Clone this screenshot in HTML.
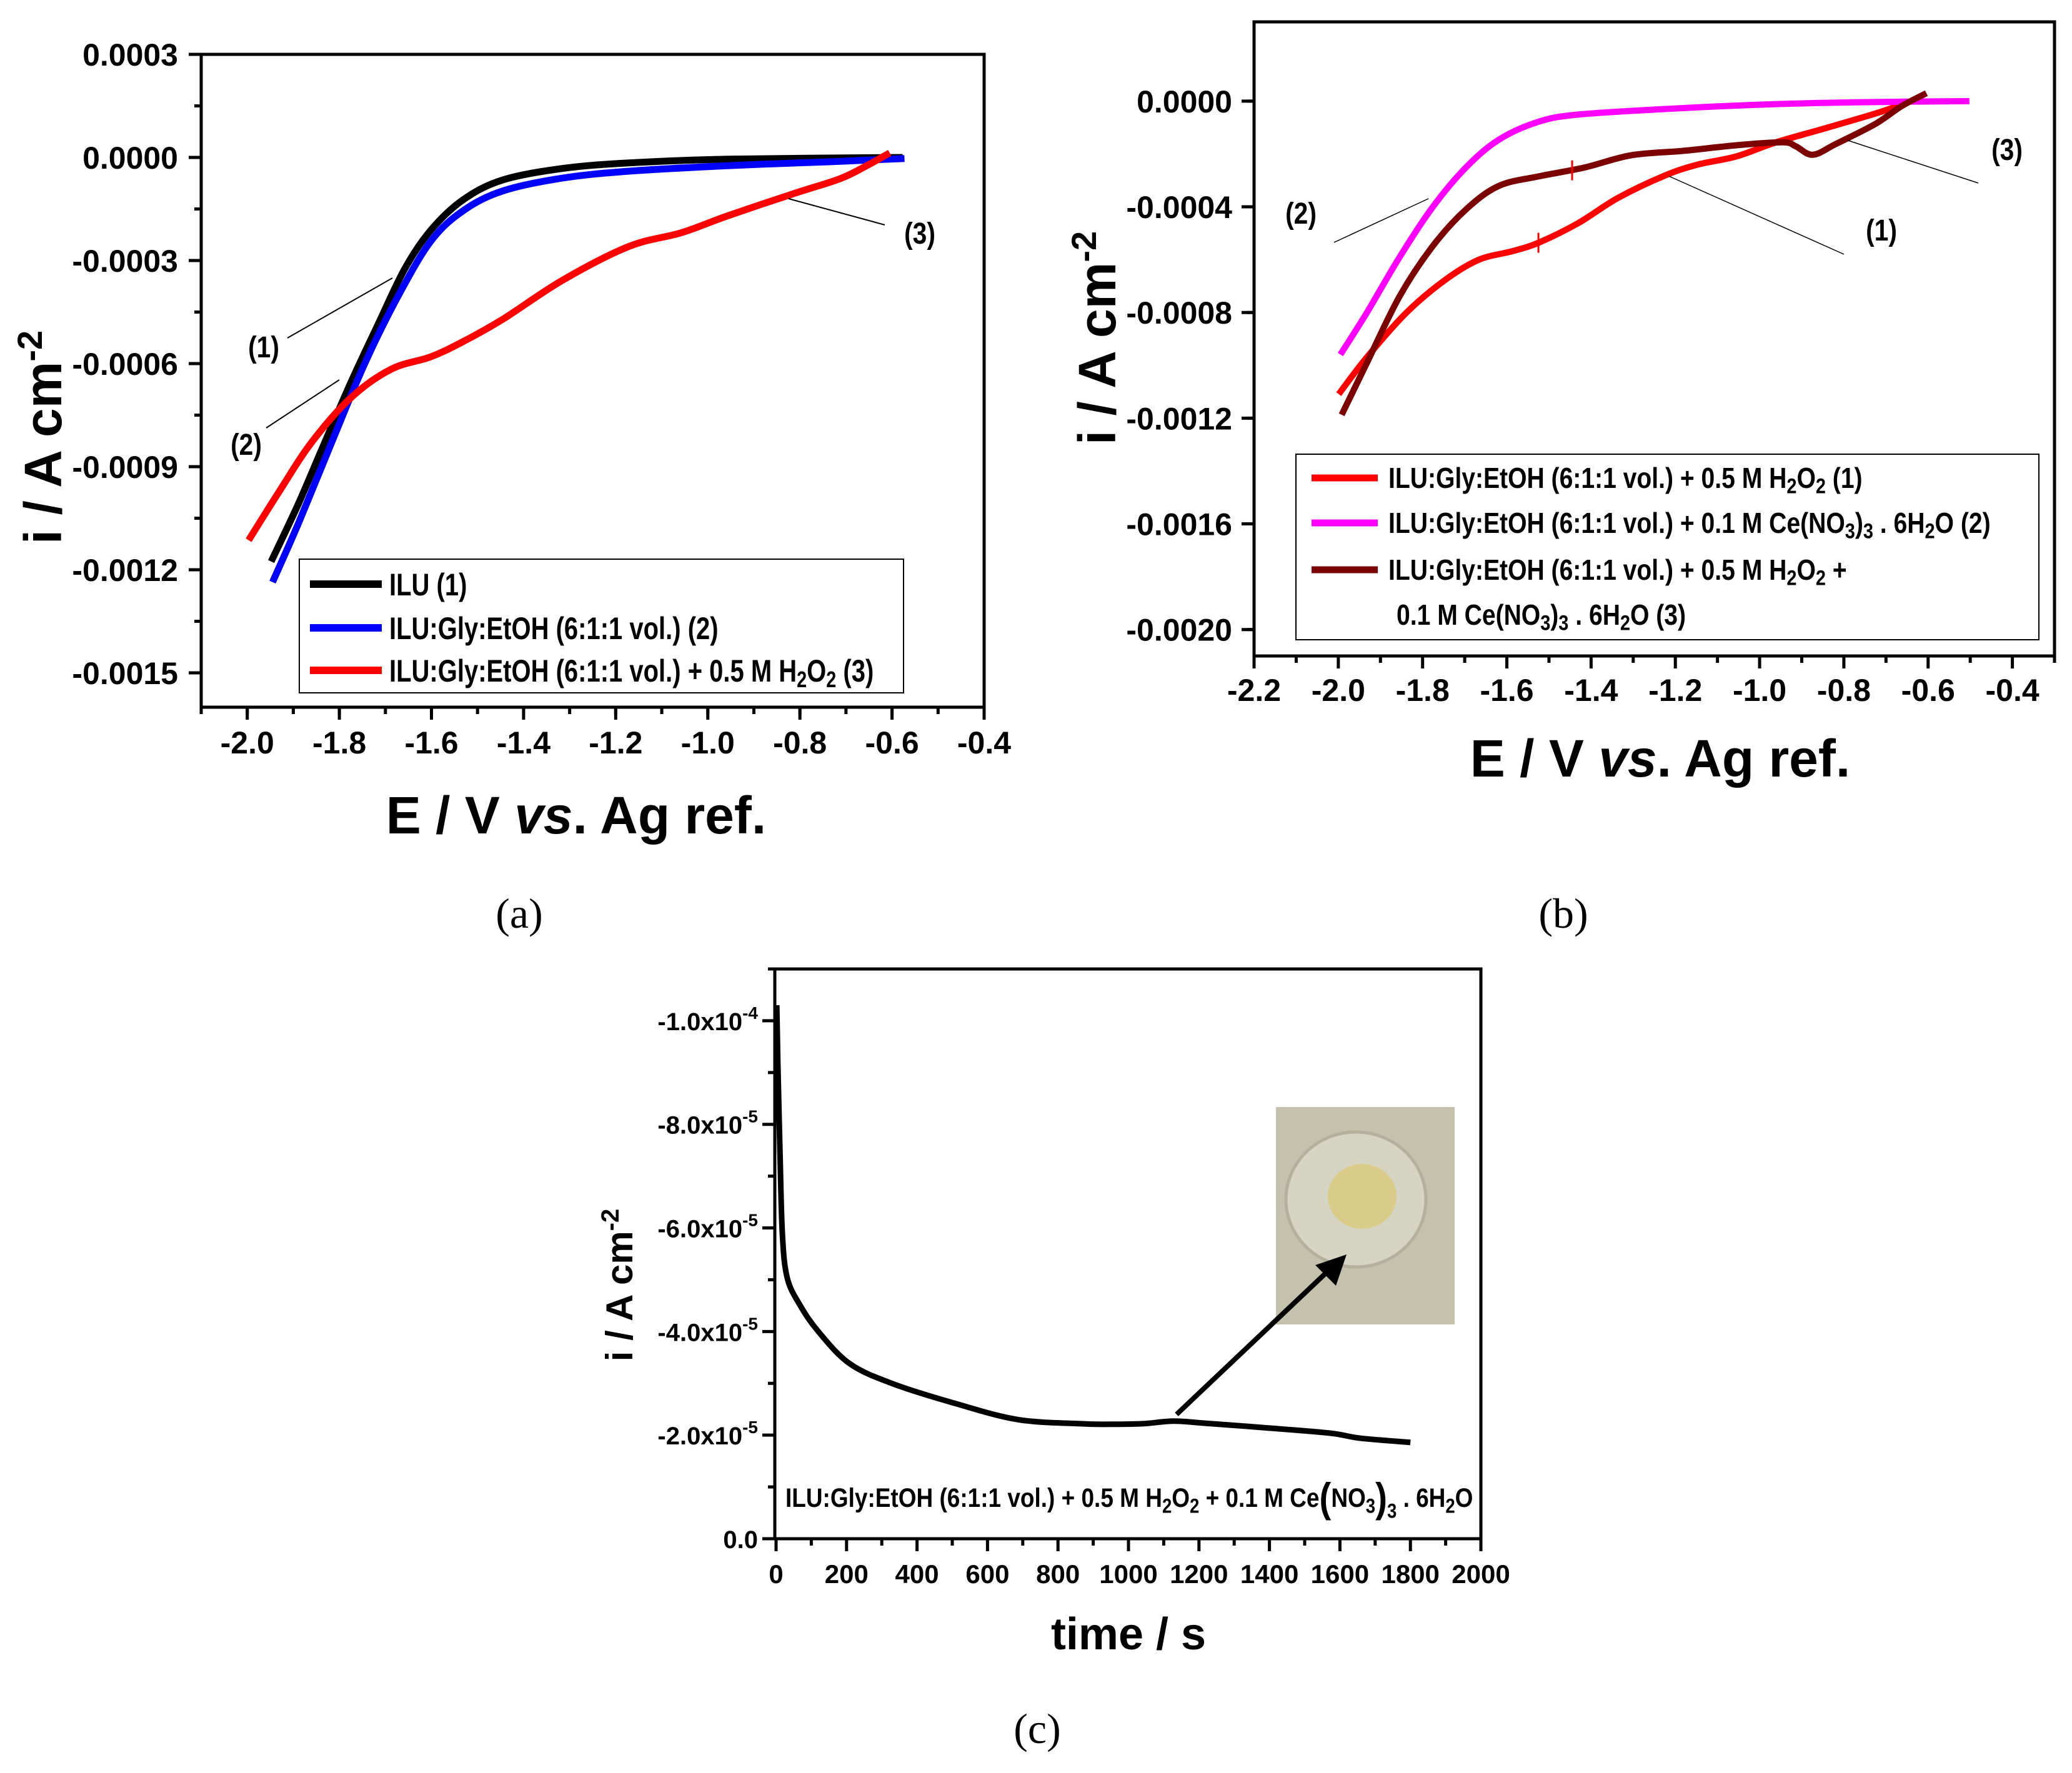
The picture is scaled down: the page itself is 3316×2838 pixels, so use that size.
<!DOCTYPE html>
<html><head><meta charset="utf-8"><title>Voltammetry and chronoamperometry</title>
<style>
html,body{margin:0;padding:0;background:#fff;}
svg{display:block;}
text{font-family:"Liberation Sans",Arial,sans-serif;}
.nar{font-family:"Liberation Sans",sans-serif;font-weight:bold;}
.cap{font-family:"Liberation Serif",serif;font-size:68px;}
</style></head>
<body>
<svg id="fig" width="3316" height="2838" viewBox="0 0 3316 2838" xmlns="http://www.w3.org/2000/svg">
<rect x="0" y="0" width="3316" height="2838" fill="#fff"/>
<g id="pa"></g>
<g id="pb"></g>
<g id="pc"></g>

<text class="cap" x="831" y="1485" text-anchor="middle">(a)</text>
<text class="cap" x="2502" y="1485" text-anchor="middle">(b)</text>
<text class="cap" x="1660" y="2790" text-anchor="middle">(c)</text>

<text x="922" y="1334" text-anchor="middle" font-weight="bold" font-size="84">E / V <tspan font-style="italic">vs</tspan>. Ag ref.</text>
<text transform="translate(98,700) rotate(-90)" text-anchor="middle" font-weight="bold" font-size="84">i / A cm<tspan baseline-shift="super" font-size="56">-2</tspan></text>
<text x="2657" y="1243" text-anchor="middle" font-weight="bold" font-size="84">E / V <tspan font-style="italic">vs</tspan>. Ag ref.</text>
<text transform="translate(1785,541) rotate(-90)" text-anchor="middle" font-weight="bold" font-size="84">i / A cm<tspan baseline-shift="super" font-size="56">-2</tspan></text>
<text x="1806" y="2640" text-anchor="middle" font-weight="bold" font-size="72">time / s</text>
<text transform="translate(1012,2057) rotate(-90)" text-anchor="middle" font-weight="bold" font-size="60">i / A cm<tspan baseline-shift="super" font-size="40">-2</tspan></text>
</svg>
<script>
// ---------- Panel (a) data ----------
const aBlackX=[-1.948,-1.888,-1.831,-1.773,-1.716,-1.658,-1.601,-1.530,-1.444,-1.315,-1.171,-0.957,-0.577];
const aBlackY=[-0.001176,-0.001005,-0.000827,-0.000649,-0.000486,-0.000324,-0.000211,-0.000122,-0.000065,-0.000032,-0.000016,-0.000005,0];
const aBlueX=[-1.945,-1.888,-1.816,-1.745,-1.673,-1.601,-1.530,-1.444,-1.315,-1.171,-0.957,-0.742,-0.573];
const aBlueY=[-0.001236,-0.001062,-0.000827,-0.0006,-0.000405,-0.000243,-0.000154,-0.000097,-0.00006,-0.00004,-0.000024,-0.000013,-0.000003];
const aRedX=[-1.997,-1.931,-1.859,-1.773,-1.687,-1.601,-1.530,-1.444,-1.315,-1.171,-1.057,-0.957,-0.813,-0.713,-0.655,-0.605];
const aRedY=[-0.001114,-0.000973,-0.000827,-0.000697,-0.000616,-0.00058,-0.000535,-0.00047,-0.000357,-0.000259,-0.000219,-0.00017,-0.000105,-0.000062,-0.000024,0.000013];
const aXTicks=[-2.0,-1.8,-1.6,-1.4,-1.2,-1.0,-0.8,-0.6,-0.4];
const aXTickLabels=["-2.0","-1.8","-1.6","-1.4","-1.2","-1.0","-0.8","-0.6","-0.4"];
const aYTicks=[0.0003,0,-0.0003,-0.0006,-0.0009,-0.0012,-0.0015];
const aYTickLabels=["0.0003","0.0000","-0.0003","-0.0006","-0.0009","-0.0012","-0.0015"];

// ---------- Panel (b) data ----------
const bRedX=[-1.999,-1.932,-1.838,-1.744,-1.666,-1.587,-1.525,-1.431,-1.337,-1.227,-1.149,-1.055,-0.961,-0.836,-0.711,-0.648];
const bRedY=[-0.001109,-0.000969,-0.0008,-0.000674,-0.0006,-0.000568,-0.000536,-0.000462,-0.000367,-0.000283,-0.000241,-0.000209,-0.000156,-0.000099,-0.00004,-0.000002];
const bMagX=[-1.995,-1.932,-1.854,-1.775,-1.697,-1.619,-1.525,-1.431,-1.227,-0.992,-0.757,-0.502];
const bMagY=[-0.000959,-0.0008,-0.000589,-0.000399,-0.000251,-0.000146,-0.000078,-0.000051,-0.00003,-0.000013,-0.000004,0];
const bDarkX=[-1.992,-1.932,-1.854,-1.775,-1.697,-1.619,-1.525,-1.415,-1.305,-1.180,-1.055,-0.945,-0.914,-0.874,-0.820,-0.726,-0.663,-0.604];
const bDarkY=[-0.001187,-0.00099,-0.000737,-0.000547,-0.00041,-0.000321,-0.000285,-0.000251,-0.000205,-0.000188,-0.000167,-0.000156,-0.000171,-0.000203,-0.000163,-0.000087,-0.000019,0.00003];
const bXTicks=[-2.2,-2.0,-1.8,-1.6,-1.4,-1.2,-1.0,-0.8,-0.6,-0.4];
const bXTickLabels=["-2.2","-2.0","-1.8","-1.6","-1.4","-1.2","-1.0","-0.8","-0.6","-0.4"];
const bYTicks=[0,-0.0004,-0.0008,-0.0012,-0.0016,-0.0020];
const bYTickLabels=["0.0000","-0.0004","-0.0008","-0.0012","-0.0016","-0.0020"];

// ---------- Panel (c) data (current magnitude, x1e-5 A cm-2, plotted on reversed axis) ----------
const cTime=[2,5,11,18,32,67,120,209,332,509,686,863,950,1040,1128,1217,1393,1570,1659,1800];
const cCurrent=[10.3,9.2,7.5,5.86,5.03,4.52,4.0,3.38,2.99,2.61,2.30,2.22,2.21,2.22,2.27,2.23,2.14,2.04,1.94,1.86];
const cXTicks=[0,200,400,600,800,1000,1200,1400,1600,1800,2000];
const cYTicks=[0,2,4,6,8,10];
const cYTickLabels=["0.0","-2.0x10","-4.0x10","-6.0x10","-8.0x10","-1.0x10"];
const cYTickExp=["","-5","-5","-5","-5","-4"];

const NS="http://www.w3.org/2000/svg";
function mk(parent,tag,attrs){const e=document.createElementNS(NS,tag);for(const k in attrs)e.setAttribute(k,attrs[k]);parent.appendChild(e);return e;}
function scale(d0,d1,r0,r1){return v=>r0+(v-d0)/(d1-d0)*(r1-r0);}
function narText(parent,x,y,fs,html,anchor,sx){
  const t=mk(parent,'text',{x:0,y:0,'font-size':fs,'class':'nar','text-anchor':anchor||'start',transform:'translate('+x+','+y+') scale('+(sx||0.82)+',1)'});
  t.innerHTML=html;
  return t;
}

function axes(g,L,R,T,B,sx,sy,xt,xl,yt,yl,xMinor,yMinor,labelRight,xLabelY,fs){
  const fr=mk(g,'rect',{x:L,y:T,width:R-L,height:B-T,fill:'none',stroke:'#000','stroke-width':5});
  
  
  xMinor.forEach(v=>{const x=sx(v);const t=mk(g,'line',{x1:x,x2:x,y1:B,y2:B+11,stroke:'#000','stroke-width':5});
    
    });
  yMinor.forEach(v=>{const y=sy(v);const t=mk(g,'line',{x1:L-11,x2:L,y1:y,y2:y,stroke:'#000','stroke-width':5});
    
    });
  xt.forEach((v,i)=>{const x=sx(v);const t=mk(g,'line',{x1:x,x2:x,y1:B,y2:B+20,stroke:'#000','stroke-width':5});
    
    
    const tx=mk(g,'text',{x:x,y:xLabelY,'text-anchor':'middle','font-weight':'bold','font-size':fs});
    tx.textContent=xl[i];
    
    });
  yt.forEach((v,i)=>{const y=sy(v);const t=mk(g,'line',{x1:L-20,x2:L,y1:y,y2:y,stroke:'#000','stroke-width':5});
    
    
    if(yl){const tx=mk(g,'text',{x:labelRight,y:y+fs*0.36,'text-anchor':'end','font-weight':'bold','font-size':fs});
    tx.textContent=yl[i];
    
    }});
}
function pathD(xs,ys,sx,sy){
  const p=xs.map((x,i)=>[sx(x),sy(ys[i])]);
  let d='M'+p[0][0].toFixed(1)+','+p[0][1].toFixed(1);
  for(let i=0;i<p.length-1;i++){
    const p0=p[i-1]||p[i],p1=p[i],p2=p[i+1],p3=p[i+2]||p2;
    const c1=[p1[0]+(p2[0]-p0[0])/6,p1[1]+(p2[1]-p0[1])/6];
    const c2=[p2[0]-(p3[0]-p1[0])/6,p2[1]-(p3[1]-p1[1])/6];
    d+=' C'+c1[0].toFixed(1)+','+c1[1].toFixed(1)+' '+c2[0].toFixed(1)+','+c2[1].toFixed(1)+' '+p2[0].toFixed(1)+','+p2[1].toFixed(1);
  }
  return d;
}
function range(a,b,s){const r=[];for(let v=a;v<=b+1e-9;v+=s)r.push(+v.toFixed(6));return r;}

// ================= Panel A =================
(function(){
  const g=document.getElementById('pa');
  const L=322,R=1575,T=87,B=1132;
  const sx=scale(-2.1,-0.4,L,R), sy=scale(0.0003,-0.0016,T,B);
  axes(g,L,R,T,B,sx,sy,aXTicks,aXTickLabels,aYTicks,aYTickLabels,range(-2.1,-0.5,0.1),range(-0.0015,0.00015,0.00015),285,1206,50);
  const series=[[aBlackX,aBlackY,'#000','series-ilu'],[aBlueX,aBlueY,'#0000ff','series-ilu-gly-etoh'],[aRedX,aRedY,'#ff0000','series-h2o2']];
  series.forEach(s=>{const p=mk(g,'path',{d:pathD(s[0],s[1],sx,sy),fill:'none',stroke:s[2],'stroke-width':11,'stroke-linejoin':'round'});
    
    });
  [[460,541,628,445,'(1)',422,572],[426,685,543,608,'(2)',394,728],[1262,318,1416,360,'(3)',1472,390]].forEach(a=>{
    const l=mk(g,'line',{x1:a[0],y1:a[1],x2:a[2],y2:a[3],stroke:'#000','stroke-width':2});
    
    
    const t=narText(g,a[5],a[6],48,a[4],'middle',0.85);
    
    });
  const lg=mk(g,'g',{});
  
  
  mk(lg,'rect',{x:479,y:895,width:967,height:214,fill:'#fff',stroke:'#000','stroke-width':2});
  const sub=n=>'<tspan baseline-shift="-25%" font-size="36">'+n+'</tspan>';
  const ent=[['#000',935,'ILU (1)'],['#0000ff',1005,'ILU:Gly:EtOH (6:1:1 vol.) (2)'],['#ff0000',1073,'ILU:Gly:EtOH (6:1:1 vol.) + 0.5 M H'+sub(2)+'O'+sub(2)+' (3)']];
  ent.forEach(e=>{const l=mk(lg,'line',{x1:496,x2:611,y1:e[1],y2:e[1],stroke:e[0],'stroke-width':12});
    
    
    const t=narText(lg,623,e[1]+18,50,e[2],'start',0.8);
    
    });
})();

// ================= Panel B =================
(function(){
  const g=document.getElementById('pb');
  const L=2007,R=3288,T=35,B=1050;
  const sx=scale(-2.2,-0.3,L,R), sy=scale(0.0003,-0.0021,T,B);
  axes(g,L,R,T,B,sx,sy,bXTicks,bXTickLabels,bYTicks,bYTickLabels,range(-2.1,-0.3,0.2),range(-0.0020,0.0002,0.0004),1972,1122,50);
  const series=[[bRedX,bRedY,'#ff0000','series-h2o2'],[bMagX,bMagY,'#ff00ff','series-cerium-nitrate'],[bDarkX,bDarkY,'#7b0000','series-h2o2-cerium']];
  series.forEach(s=>{const p=mk(g,'path',{d:pathD(s[0],s[1],sx,sy),fill:'none',stroke:s[2],'stroke-width':10,'stroke-linejoin':'round'});
    
    });
  [[-1.525,-0.000536],[-1.445,-0.000262]].forEach(m=>{const x=sx(m[0]),y=sy(m[1]);
    const l=mk(g,'line',{x1:x,x2:x,y1:y-16,y2:y+16,stroke:'#ff0000','stroke-width':3});
    
    });
  [[2135,388,2286,318,'(2)',2082,358],[2671,282,2951,407,'(1)',3011,385],[2958,225,3166,293,'(3)',3212,256]].forEach(a=>{
    const l=mk(g,'line',{x1:a[0],y1:a[1],x2:a[2],y2:a[3],stroke:'#000','stroke-width':1.5});
    
    
    const t=narText(g,a[5],a[6],48,a[4],'middle',0.85);
    
    });
  const lg=mk(g,'g',{});
  
  
  mk(lg,'rect',{x:2074,y:727,width:1189,height:297,fill:'#fff',stroke:'#000','stroke-width':2});
  const sub=n=>'<tspan baseline-shift="-25%" font-size="34">'+n+'</tspan>';
  const ent=[['#ff0000',765,'ILU:Gly:EtOH (6:1:1 vol.) + 0.5 M H'+sub(2)+'O'+sub(2)+' (1)'],
             ['#ff00ff',837,'ILU:Gly:EtOH (6:1:1 vol.) + 0.1 M Ce(NO'+sub(3)+')'+sub(3)+' . 6H'+sub(2)+'O (2)'],
             ['#7b0000',912,'ILU:Gly:EtOH (6:1:1 vol.) + 0.5 M H'+sub(2)+'O'+sub(2)+' +']];
  ent.forEach(e=>{const l=mk(lg,'line',{x1:2099,x2:2205,y1:e[1],y2:e[1],stroke:e[0],'stroke-width':11});
    
    
    const t=narText(lg,2222,e[1]+16,46,e[2],'start',0.85);
    
    });
  const t=narText(lg,2235,1000,46,'0.1 M Ce(NO'+sub(3)+')'+sub(3)+' . 6H'+sub(2)+'O (3)','start',0.85);
  
  
})();

// ================= Panel C =================
(function(){
  const g=document.getElementById('pc');
  const L=1240,R=2370,T=1551,B=2463;
  const sx=scale(0,2000,L+2,R), sy=scale(0,11,B,T);
  axes(g,L,R,T,B,sx,sy,cXTicks,cXTicks.map(String),cYTicks,null,range(100,1900,200),range(1,11,2),1213,2534,42);
  cYTicks.forEach((v,i)=>{const y=sy(v);
    const t=mk(g,'text',{x:1213,y:y+15,'text-anchor':'end','font-weight':'bold','font-size':40});
    
    
    t.innerHTML=cYTickLabels[i]+(cYTickExp[i]?'<tspan dy="-18" font-size="28">'+cYTickExp[i]+'</tspan>':'');});
  const p=mk(g,'path',{d:pathD(cTime,cCurrent,sx,sy),fill:'none',stroke:'#000','stroke-width':9,'stroke-linejoin':'round'});
  
  
  const ph=mk(g,'g',{});
  
  
  mk(ph,'rect',{x:2042,y:1772,width:286,height:348,fill:'#c4c2ac'});
  mk(ph,'ellipse',{cx:2170,cy:1920,rx:112,ry:108,fill:'#d6d4c2',stroke:'#b3b09b','stroke-width':5});
  mk(ph,'ellipse',{cx:2180,cy:1915,rx:55,ry:52,fill:'#d9cb8a'});
  const ar=mk(g,'g',{});
  
  
  mk(ar,'line',{x1:1883,y1:2264,x2:2128,y2:2032,stroke:'#000','stroke-width':8});
  mk(ar,'polygon',{points:'2155,2008 2138,2058 2105,2025',fill:'#000'});
  const sub=n=>'<tspan baseline-shift="-30%" font-size="32">'+n+'</tspan>';
  const t=narText(g,1257,2412,43,'ILU:Gly:EtOH (6:1:1 vol.) + 0.5 M H'+sub(2)+'O'+sub(2)+' + 0.1 M Ce<tspan font-size="66" dy="8">(</tspan><tspan dy="-8">NO</tspan>'+sub(3)+'<tspan font-size="66" dy="8">)</tspan>'+sub(3)+'<tspan dy="-8"> . 6H</tspan>'+sub(2)+'O','start',0.86);
  
  
})();
</script>
</body></html>
